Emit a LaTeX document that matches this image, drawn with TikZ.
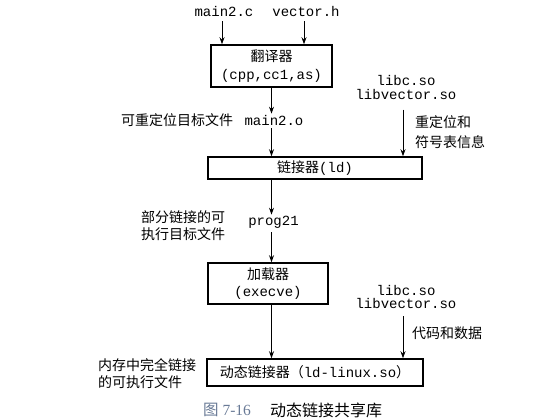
\documentclass[tikz,border=0pt]{standalone}
\usepackage{fontspec}
\usepackage{tikz}
\usetikzlibrary{arrows.meta}
\setmonofont{Liberation Mono}
\newfontfamily\cjk{Noto Sans CJK SC}
\newfontfamily\legfont{Liberation Serif}
\definecolor{legcor}{RGB}{105,122,150}

\begin{document}
\begin{tikzpicture}[x=1pt, y=-1pt, >={Stealth[length=7pt,width=5pt]},
	caixa/.style={draw, line width=1.5pt, inner sep=0pt, align=center, font=\ttfamily\fontsize{14}{17.5}\selectfont},
	arq/.style={font=\ttfamily\fontsize{14}{13.5}\selectfont, align=center, inner sep=1pt},
	rotulo/.style={font=\cjk\fontsize{14}{17}\selectfont, align=left, inner sep=0pt},
	seta/.style={->, line width=0.9pt}]
	
	\useasboundingbox (0,0) rectangle (554,419);
	
	% Arquivos de entrada
	\node[arq] (mainc) at (224,12) {main2.c};
	\node[arq] (vech) at (306,12) {vector.h};
	
	% Tradutor
	\node[caixa, minimum width=121pt, minimum height=42pt] (trad) at (271.5,66) {{\cjk 翻译器}\\(cpp,cc1,as)};
	\draw[seta, shorten <=3pt] ([xshift=-2pt]mainc.south) -- ([xshift=-2pt]mainc.south |- trad.north);
	\draw[seta, shorten <=3pt] ([xshift=-2pt]vech.south) -- ([xshift=-2pt]vech.south |- trad.north);
	
	% Objeto relocavel
	\node[arq] (mainoo) at (274,120) {main2.o};
	\node[rotulo, anchor=west] (rotmo) at (121,120) {可重定位目标文件};
	\draw[seta] (trad.south) -- (trad.south |- mainoo.north);
	
	% Ligador
	\node[caixa, minimum width=214pt, minimum height=22pt] (link) at (315,168) {{\cjk 链接器}(ld)};
	\draw[seta, shorten <=2pt] (trad.south |- mainoo.south) -- (trad.south |- link.north);
	
	% Bibliotecas (relocacao)
	\node[arq] (libsa) at (406,87.5) {libc.so\\libvector.so};
	\draw[seta, shorten <=9pt] ([xshift=-3pt]libsa.south) -- ([xshift=-3pt]libsa.south |- link.north);
	\node[rotulo, anchor=north west, font=\cjk\fontsize{14}{20}\selectfont] (rotreloc) at (415,115) {重定位和\\符号表信息};
	
	% Executavel parcial
	\node[arq] (prog) at (273.5,222) {prog21};
	\node[rotulo, anchor=north west] (rotprog) at (141,210) {部分链接的可\\执行目标文件};
	\draw[seta] (trad.south |- link.south) -- (trad.south |- prog.north);
	
	% Carregador
	\node[caixa, minimum width=120pt, minimum height=41pt] (load) at (268,283.5) {{\cjk 加载器}\\(execve)};
	\draw[seta, shorten <=3pt] (trad.south |- prog.south) -- (trad.south |- load.north);
	
	% Bibliotecas (codigo e dados)
	\node[arq] (libsb) at (406,297) {libc.so\\libvector.so};
	\node[rotulo, anchor=west] (rotcod) at (412,333) {代码和数据};
	
	% Ligador dinamico
	\node[caixa, minimum width=216pt, minimum height=27pt] (dyn) at (315,372.5) {{\cjk 动态链接器（}ld-linux.so{\cjk ）}};
	\draw[seta] (trad.south |- load.south) -- (trad.south |- dyn.north);
	\draw[seta, shorten <=6pt] ([xshift=-3pt]libsb.south) -- ([xshift=-3pt]libsb.south |- dyn.north);
	\node[rotulo, anchor=north west] (rotmem) at (98,358) {内存中完全链接\\的可执行文件};
	
	% Legenda
	\node[anchor=west, inner sep=0pt, text=legcor, font=\legfont\fontsize{15.5}{16}\selectfont] (fig) at (203,410) {{\cjk 图} 7-16};
	\node[anchor=west, inner sep=0pt, font=\cjk\fontsize{16}{16}\selectfont] (tit) at (270,410) {动态链接共享库};
\end{tikzpicture}
\end{document}
